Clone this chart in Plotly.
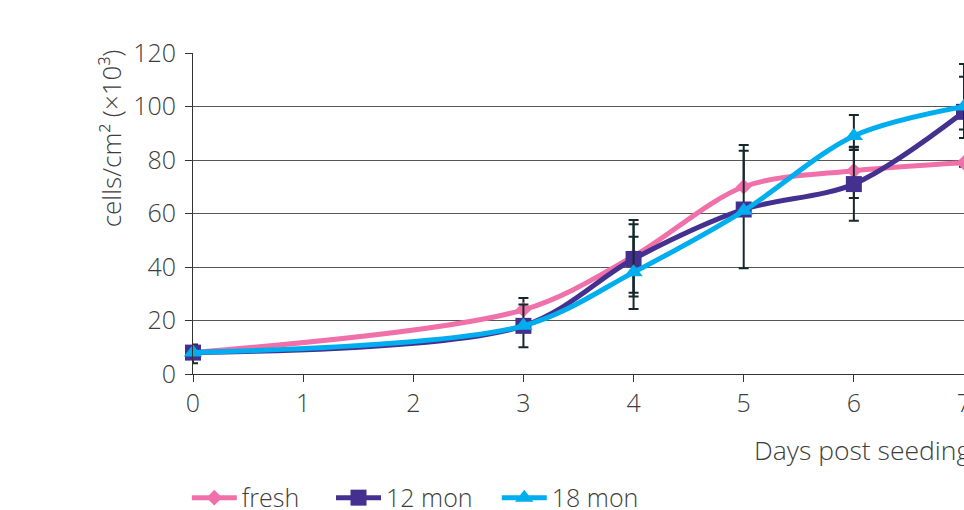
import plotly.graph_objects as go

# Growth curves: cell density after seeding, three storage conditions
days = [0, 3, 4, 5, 6, 7]

fresh = [8, 24, 44, 70, 76, 79]
mon12 = [8, 18, 43, 61.5, 71, 98]
mon18 = [8, 18, 38, 61, 89, 100]

# Error bars (upper / lower)
fresh_up = [0, 4.4, 13.6, 15.6, 9, 0]
fresh_dn = [0, 0, 13.6, 0, 10.2, 1.5]
mon12_up = [3, 8, 13, 22, 13.7, 13.1]
mon12_dn = [4, 8, 14, 22, 13.7, 9.8]
mon18_up = [0, 0, 13.3, 0, 7.8, 15.9]
mon18_dn = [0, 0, 13.7, 0, 5.3, 8.6]

y_ticks = [0, 20, 40, 60, 80, 100, 120]
x_ticks = [0, 1, 2, 3, 4, 5, 6, 7]

FONT = "Open Sans"
TXT = "#3d3d3d"
ERR_COLOR = "#15282b"


def tfont(size=25):
    return dict(family=FONT, size=size, color=TXT, weight=300)


series = [
    ("fresh", fresh, fresh_up, fresh_dn, "#f070aa", "diamond", 12, "legend", -0.008),
    ("12 mon", mon12, mon12_up, mon12_dn, "#44318f", "square", 16, "legend2", 0.179),
    ("18 mon", mon18, mon18_up, mon18_dn, "#00aeef", "triangle-up", 16, "legend3", 0.394),
]

fig = go.Figure()
for name, vals, up, dn, color, symbol, size, leg, _ in series:
    fig.add_trace(go.Scatter(
        x=days, y=vals, name=name, mode="lines+markers", legend=leg,
        line=dict(color=color, width=5, shape="spline", smoothing=0.9),
        marker=dict(symbol=symbol, size=size, color=color),
        error_y=dict(type="data", symmetric=False, array=up, arrayminus=dn,
                     color=ERR_COLOR, thickness=2, width=5),
        cliponaxis=False,
    ))

legend_layout = {}
for _, _, _, _, _, _, _, leg, lx in series:
    legend_layout[leg] = dict(
        orientation="h", x=lx, xanchor="left", y=-0.386, yanchor="middle",
        font=tfont(), itemwidth=45, bgcolor="rgba(0,0,0,0)",
    )

fig.update_layout(
    width=964, height=510,
    margin=dict(l=193, r=0, t=53, b=136, autoexpand=False),
    paper_bgcolor="white", plot_bgcolor="white",
    font=tfont(),
    showlegend=True,
    annotations=[
        dict(text="cells/cm² (×10³)", xref="paper", yref="paper",
             x=-0.106, y=0.735, xanchor="center", yanchor="middle",
             textangle=-90, showarrow=False, font=tfont(26)),
        dict(text="Days post seeding", xref="paper", yref="paper",
             x=0.725, y=-0.237, xanchor="left", yanchor="middle",
             showarrow=False, font=tfont(26.5)),
    ],
    **legend_layout,
)

fig.update_xaxes(
    range=[0, 7], tickvals=x_ticks, ticktext=[str(v) for v in x_ticks],
    showgrid=False, zeroline=False,
    showline=True, linecolor="#333333", linewidth=1,
    ticks="outside", ticklen=7, tickcolor="#333333",
    ticklabeloverflow="allow",
    tickfont=tfont(),
)
fig.update_yaxes(
    range=[0, 120], tickvals=y_ticks, ticktext=[str(v) for v in y_ticks],
    showgrid=True, gridcolor="#555555", gridwidth=1, zeroline=False,
    showline=True, linecolor="#333333", linewidth=1,
    ticks="outside", ticklen=7, tickcolor="#333333",
    ticklabelstandoff=4,
    tickfont=tfont(),
)

fig.write_html("out.html")
